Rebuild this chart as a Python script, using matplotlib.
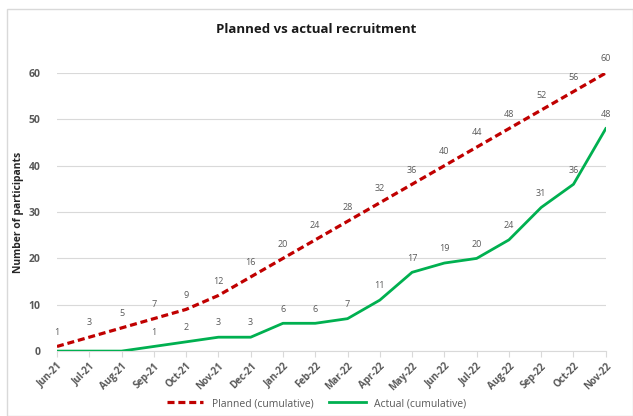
import matplotlib.pyplot as plt
from matplotlib.patches import Rectangle

months = ['Jun-21', 'Jul-21', 'Aug-21', 'Sep-21', 'Oct-21', 'Nov-21', 'Dec-21',
          'Jan-22', 'Feb-22', 'Mar-22', 'Apr-22', 'May-22', 'Jun-22', 'Jul-22',
          'Aug-22', 'Sep-22', 'Oct-22', 'Nov-22']
planned = [1, 3, 5, 7, 9, 12, 16, 20, 24, 28, 32, 36, 40, 44, 48, 52, 56, 60]
actual = [0, 0, 0, 1, 2, 3, 3, 6, 6, 7, 11, 17, 19, 20, 24, 31, 36, 48]
y_ticks = [0, 10, 20, 30, 40, 50, 60]

plt.rcParams['font.family'] = ['Open Sans', 'DejaVu Sans']
TEXT = '#595959'

fig = plt.figure(figsize=(6.33, 4.16), dpi=100)
fig.patches.append(Rectangle((7 / 633, 0.0), 1 - 7 / 633, 1 - 9 / 416,
                             transform=fig.transFigure, fill=False,
                             edgecolor='#d9d9d9', lw=1))
ax = fig.add_axes([0.090, 0.156, 0.867, 0.6685])

x = list(range(len(months)))
ax.plot(x, planned, color='#c00000', lw=2.3, dashes=(2.2, 1.2),
        label='Planned (cumulative)', zorder=3)
ax.plot(x, actual, color='#00b050', lw=2, label='Actual (cumulative)', zorder=3)

# data labels above each point (actual zeros are not labelled)
for i, v in enumerate(planned):
    ax.annotate(str(v), (i, v), xytext=(0, 7), textcoords='offset points',
                ha='center', va='bottom', fontsize=6.5, color=TEXT)
for i, v in enumerate(actual):
    if v == 0:
        continue
    ax.annotate(str(v), (i, v), xytext=(0, 7), textcoords='offset points',
                ha='center', va='bottom', fontsize=6.5, color=TEXT)

ax.set_xlim(0, len(months) - 1)
ax.set_ylim(0, 60)
ax.set_yticks(y_ticks)
ax.set_xticks(x)
ax.set_xticklabels(months, rotation=45, ha='right', rotation_mode='anchor',
                   fontsize=7, fontweight='bold', color=TEXT)
for lab in ax.get_yticklabels():
    lab.set_fontsize(7.5)
    lab.set_fontweight('bold')
    lab.set_color(TEXT)
ax.tick_params(axis='y', length=0, pad=12)
ax.tick_params(axis='x', length=4, color='#d9d9d9', pad=3)
ax.grid(axis='y', color='#d9d9d9', lw=0.8)
ax.set_axisbelow(True)
for side in ['top', 'right', 'left']:
    ax.spines[side].set_visible(False)
ax.spines['bottom'].set_color('#d9d9d9')

ax.set_ylabel('Number of participants', fontsize=7.5, fontweight='bold',
              color='#262626', labelpad=3)
fig.text(0.5, 0.93, 'Planned vs actual recruitment', ha='center', va='center',
         fontsize=9.5, fontweight='bold', color='#1a1a1a')

fig.legend(loc='center', bbox_to_anchor=(0.5, 0.03), ncol=2, frameon=False,
           fontsize=7.5, handlelength=3.5, columnspacing=1.5,
           labelcolor=TEXT)

fig.savefig('out.png', dpi=100)
